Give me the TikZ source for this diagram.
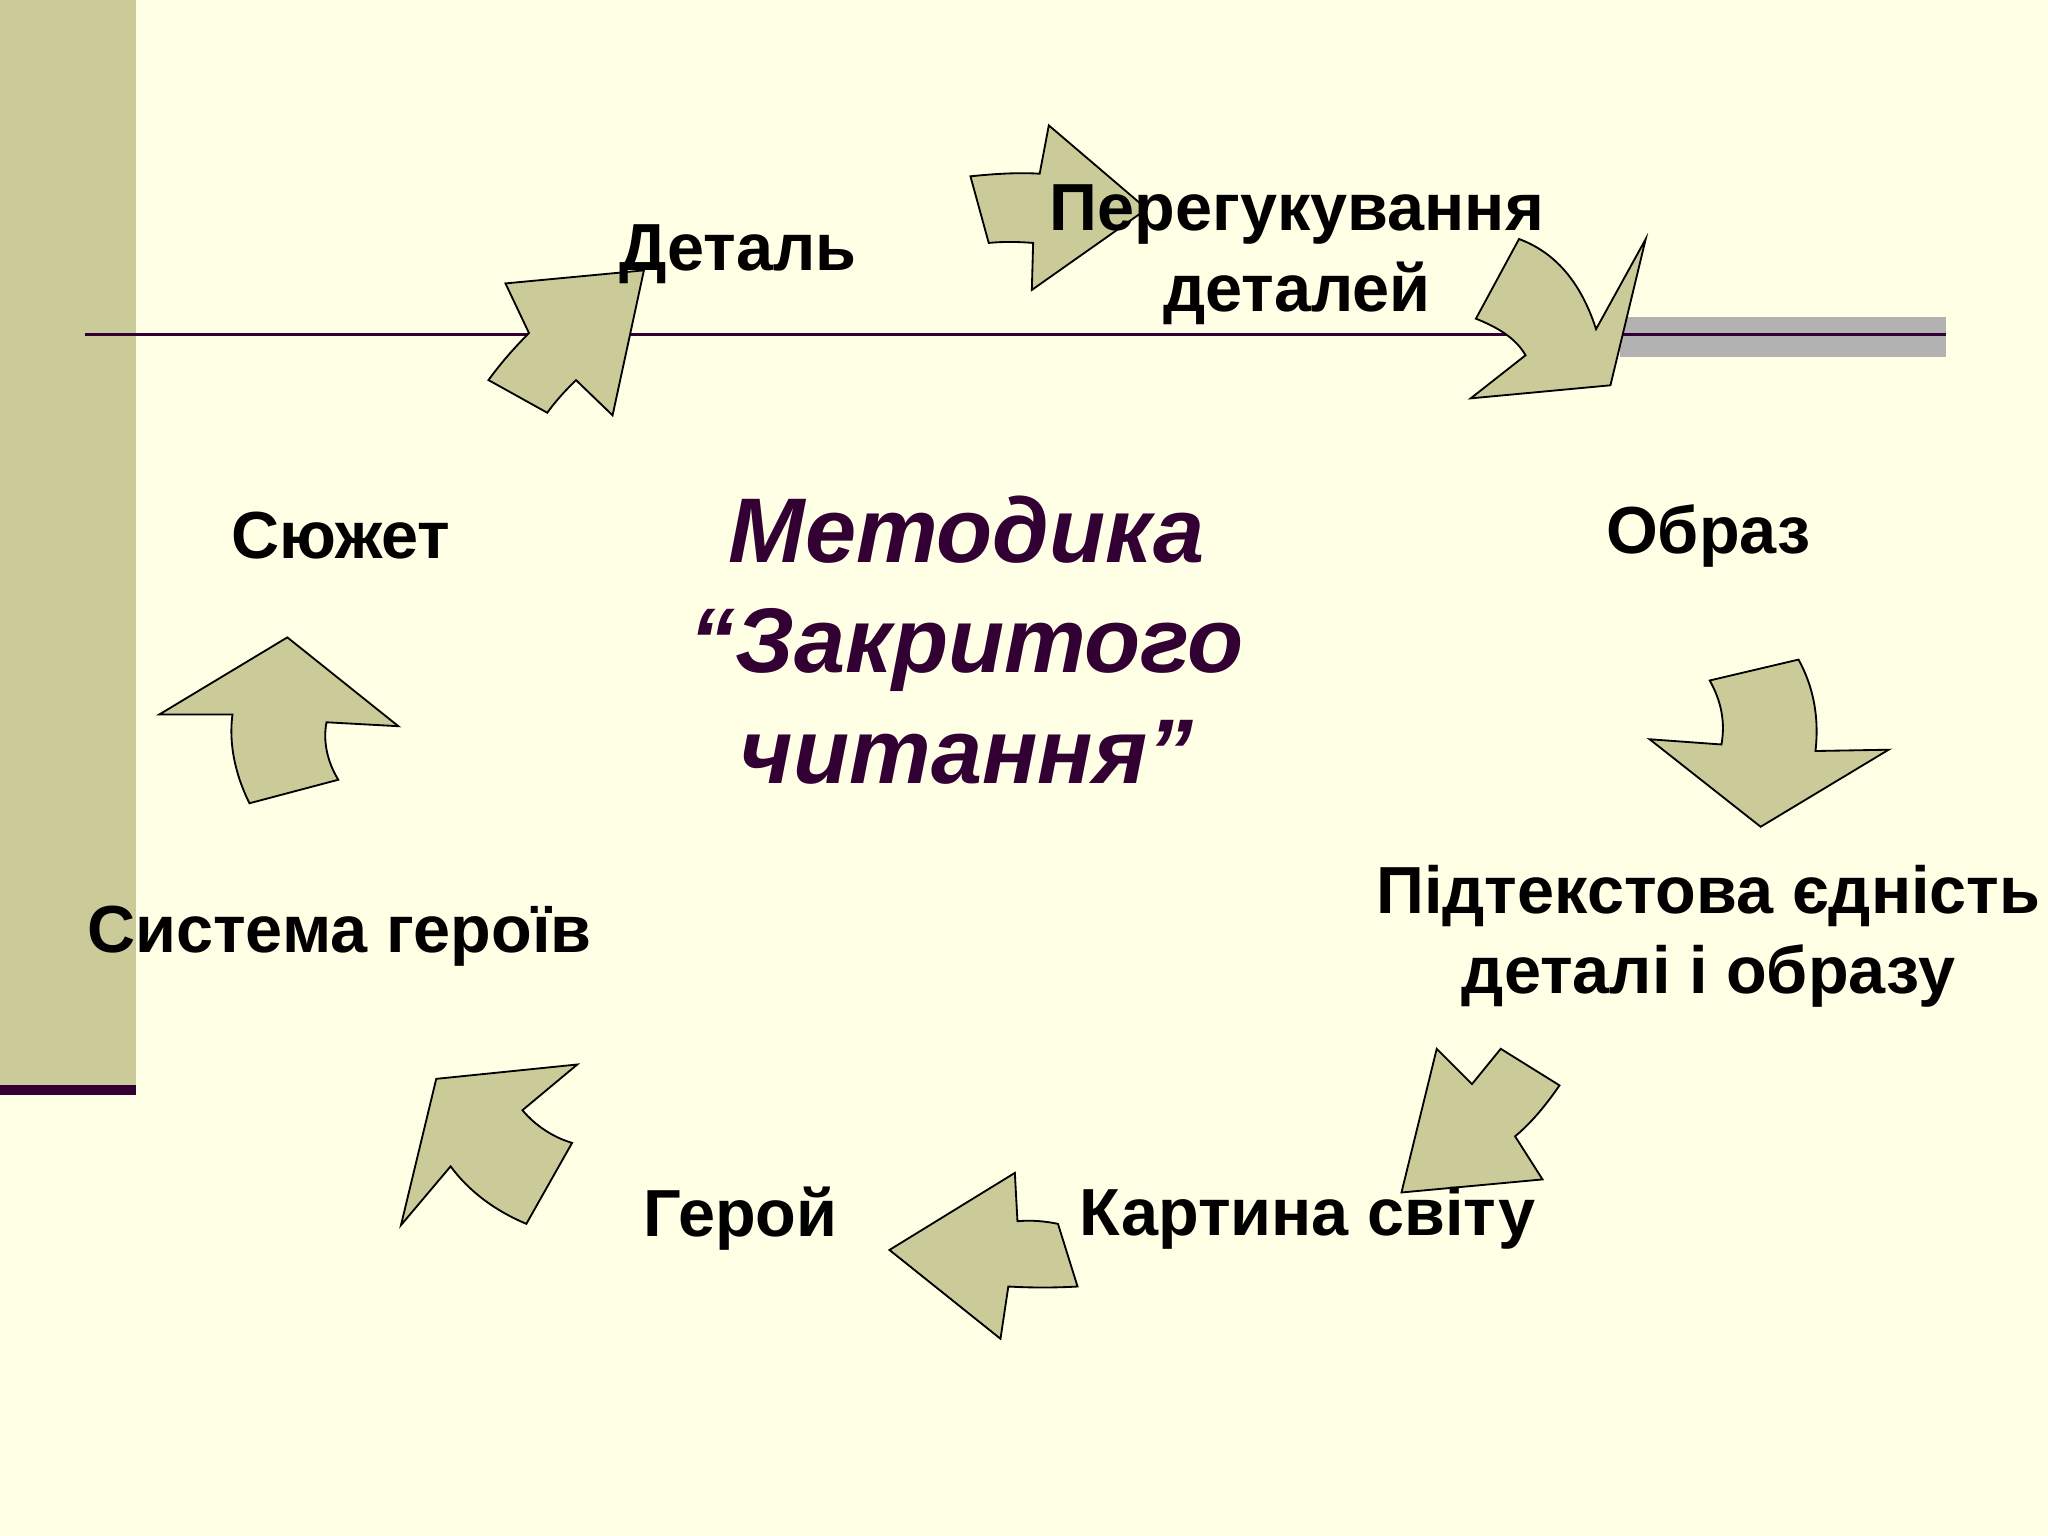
\documentclass[tikz,border=0pt]{standalone}
\usepackage{fontspec}
\setmainfont{Liberation Sans}
\definecolor{bg}{HTML}{FFFFE6}
\definecolor{khaki}{HTML}{CBCB99}
\definecolor{arr}{HTML}{CBCB99}
\definecolor{plum}{HTML}{330033}
\begin{document}
\begin{tikzpicture}[x=0.01cm,y=-0.01cm,
  lab/.style={font=\fontsize{14.5}{17.5}\selectfont\bfseries,align=center,text=black},
  blk/.style={fill=arr,draw=black,line width=0.4pt,line join=miter}]
\fill[bg] (0,0) rectangle (1568,1176);
\useasboundingbox (0,0) rectangle (1568,1176);
\fill[khaki] (0,0) rectangle (104,833);
\fill[plum] (0,831) rectangle (104,838);
\fill[gray!60] (1240,243) rectangle (1490,273);
\draw[plum,line width=0.7pt] (65,256) -- (1490,256);
% arrows
\draw[blk] (493,207) -- (387,217) -- (405,255) .. controls (392,268) and (382,280) .. (374,291) -- (419,316) .. controls (427,305) and (434,298) .. (441,291) -- (469,318) -- cycle;
\draw[blk] (803,96) -- (878,160) -- (790,222) -- (791,186) .. controls (778,185) and (767,185) .. (757,186) -- (743,135) .. controls (762,133) and (780,132) .. (796,133) -- cycle;
\draw[blk] (1260,183) -- (1233,295) -- (1126,305) -- (1168,272) .. controls (1160,258) and (1145,250) .. (1130,244) -- (1163,183) .. controls (1190,193) and (1210,215) .. (1222,252) -- cycle;
\draw[blk] (1263,566) -- (1348,633) -- (1446,574) -- (1390,575) .. controls (1393,548) and (1388,525) .. (1377,505) -- (1309,521) .. controls (1318,537) and (1321,553) .. (1318,570) -- cycle;
\draw[blk] (1100,803) -- (1127,830) -- (1149,803) -- (1194,831) .. controls (1183,847) and (1172,860) .. (1160,870) -- (1181,903) -- (1073,913) -- cycle;
\draw[blk] (681,957) -- (777,898) -- (779,935) .. controls (790,934) and (800,935) .. (810,937) -- (825,985) .. controls (807,986) and (790,986) .. (772,985) -- (766,1025) -- cycle;
\draw[blk] (334,826) -- (442,815) -- (400,850) .. controls (410,862) and (424,871) .. (438,875) -- (403,937) .. controls (379,927) and (359,912) .. (345,893) -- (307,938) -- cycle;
\draw[blk] (220,488) -- (305,556) -- (250,553) .. controls (247,568) and (251,584) .. (259,597) -- (191,615) .. controls (180,593) and (175,569) .. (178,547) -- (122,547) -- cycle;
% labels
\node[lab] (det) at (565,195) {Деталь};
\node[lab] (per) at (993,195) {Перегукування\\деталей};
\node[lab] (obr) at (1308,410) {Образ};
\node[lab] (sju) at (261,410) {Сюжет};
\node[lab] (pid) at (1308,717) {Підтекстова єдність\\деталі і образу};
\node[lab] (sys) at (260,717) {Система героїв};
\node[lab] (kar) at (1001,933) {Картина світу};
\node[lab] (ger) at (567,933) {Герой};
\node[font=\fontsize{20}{24}\selectfont\bfseries\itshape,text=plum,align=center] (title) at (740,490) {Методика\\“Закритого\\читання”};
\end{tikzpicture}
\end{document}
